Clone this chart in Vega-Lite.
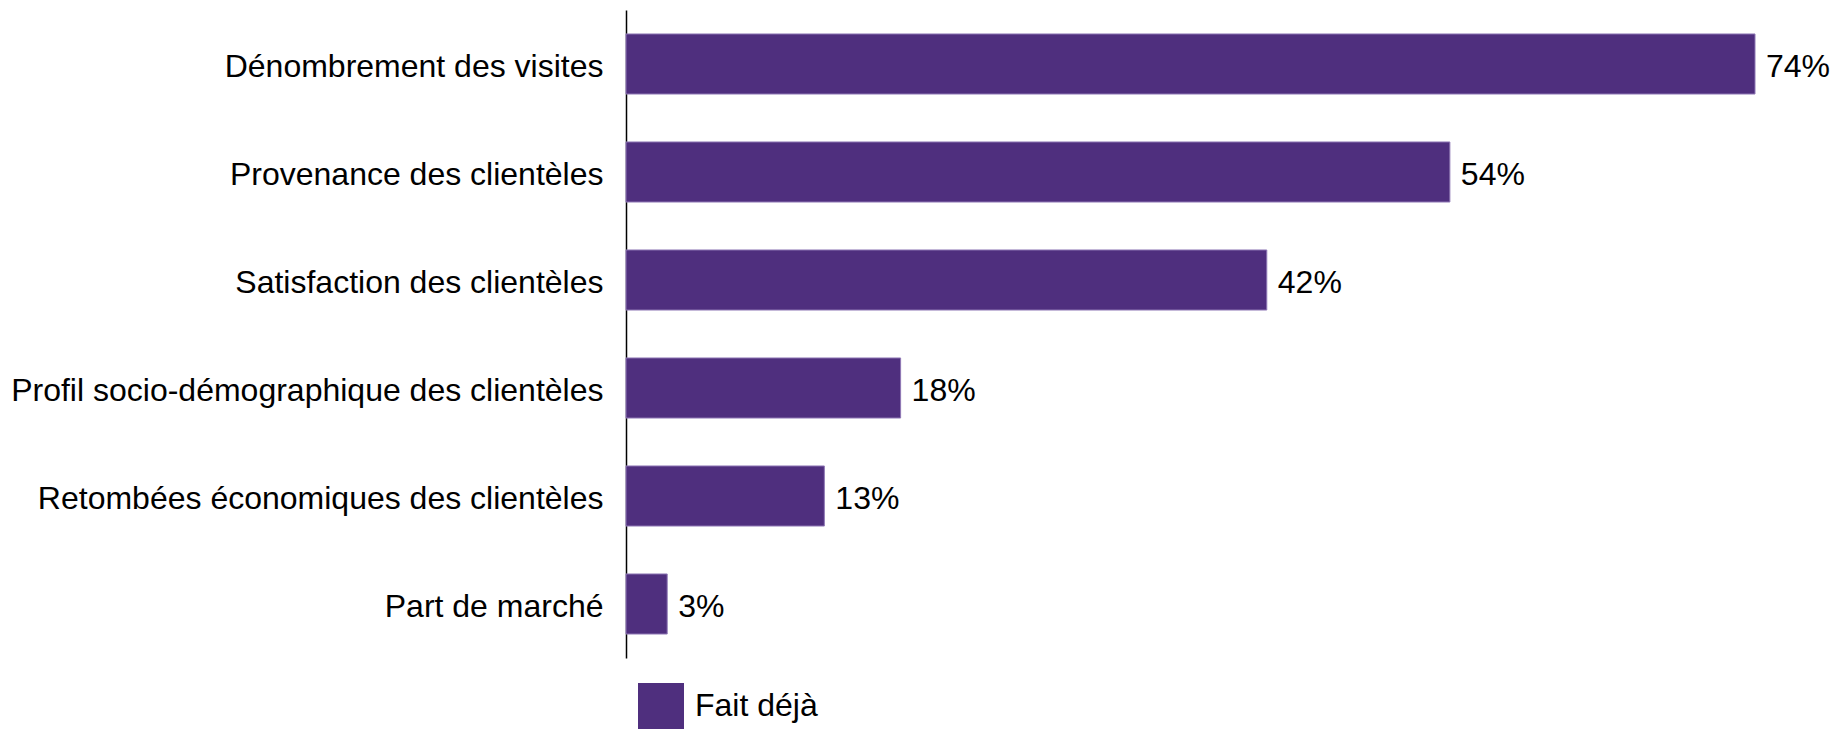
{
  "$schema": "https://vega.github.io/schema/vega-lite/v6.json",
  "width": 1129,
  "height": 648,
  "autosize": {"type": "none"},
  "padding": {"left": 626, "top": 10, "right": 88, "bottom": 71},
  "background": "white",
  "config": {
    "view": {"stroke": null},
    "font": "Liberation Sans"
  },
  "data": {
    "values": [
      {"cat": "Dénombrement des visites", "value": 74, "label": "74%", "serie": "Fait déjà"},
      {"cat": "Provenance des clientèles", "value": 54, "label": "54%", "serie": "Fait déjà"},
      {"cat": "Satisfaction des clientèles", "value": 42, "label": "42%", "serie": "Fait déjà"},
      {"cat": "Profil socio-démographique des clientèles", "value": 18, "label": "18%", "serie": "Fait déjà"},
      {"cat": "Retombées économiques des clientèles", "value": 13, "label": "13%", "serie": "Fait déjà"},
      {"cat": "Part de marché", "value": 2.7, "label": "3%", "serie": "Fait déjà"}
    ]
  },
  "encoding": {
    "y": {
      "field": "cat",
      "type": "nominal",
      "sort": null,
      "scale": {"paddingInner": 0.444, "paddingOuter": 0.222},
      "axis": {
        "title": null,
        "ticks": false,
        "labelFontSize": 32,
        "labelColor": "#000000",
        "labelPadding": 23,
        "labelOffset": 3,
        "labelLimit": 700,
        "domainColor": "#000000",
        "domainWidth": 1.5
      }
    },
    "x": {
      "field": "value",
      "type": "quantitative",
      "scale": {"domain": [0, 74], "nice": false, "zero": true},
      "axis": null
    }
  },
  "layer": [
    {
      "mark": {"type": "bar", "stroke": "#8f78b5", "strokeWidth": 1},
      "encoding": {
        "color": {
          "field": "serie",
          "type": "nominal",
          "scale": {"range": ["#4F2F7E"]},
          "legend": {
            "title": null,
            "orient": "none",
            "legendX": 12,
            "legendY": 673,
            "symbolType": "square",
            "symbolSize": 2116,
            "symbolStrokeWidth": 0,
            "labelFontSize": 32,
            "labelColor": "#000000",
            "labelOffset": 11,
            "labelFont": "Liberation Sans"
          }
        }
      }
    },
    {
      "mark": {"type": "text", "align": "left", "baseline": "middle", "dx": 11, "dy": 3, "fontSize": 32, "color": "#000000"},
      "encoding": {
        "text": {"field": "label"}
      }
    }
  ]
}
